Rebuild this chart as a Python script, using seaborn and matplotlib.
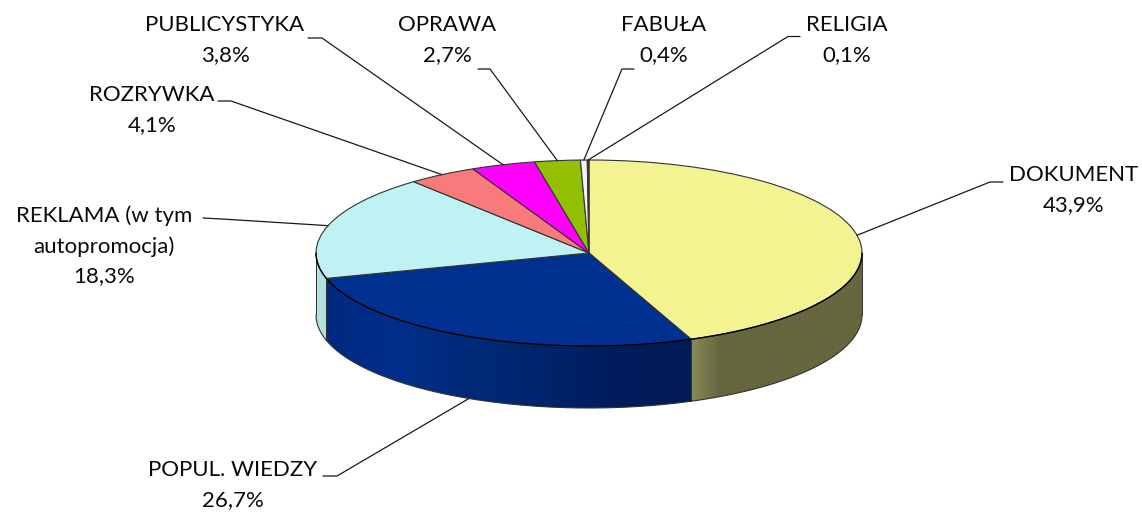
import numpy as np
import matplotlib
matplotlib.use("Agg")
import matplotlib.pyplot as plt
from matplotlib.patches import Polygon
import seaborn as sns

# udzialy gatunkow, kolejnosc zgodnie z ruchem wskazowek od gory
names = ["DOKUMENT", "POPUL. WIEDZY", "REKLAMA (w tym\nautopromocja)", "ROZRYWKA",
         "PUBLICYSTYKA", "OPRAWA", "FABUŁA", "RELIGIA"]
values = [43.9, 26.7, 18.3, 4.1, 3.8, 2.7, 0.4, 0.1]
top_colors = ["#F3F391", "#003090", "#BFF3F3", "#F87A7A", "#FF00FF", "#92BF00", "#F2F2F2", "#5A3A2A"]

# gradienty bocznych scian (tylko widoczne kawalki)
side_stops = {
    0: ["#8A8A5A", "#66663F", "#66663F", "#66663F", "#66663F", "#66663F", "#66663F"],
    1: ["#002A80", "#002E8A", "#002A78", "#00246A", "#001C5C", "#001A55"],
    2: ["#B4E2E2", "#AEDEDE"],
}

# pozycje w pikselach obrazka
CX, CY = 589, 253
RX, RY = 273, 93
DEPTH = 62 / RY
label_pos = [(1074, 190), (233, 485), (104, 246), (152, 110),
             (225, 40), (447, 40), (664, 40), (847, 40)]
leader_elbows = [[(990, 182), (1003, 182)], [(337, 476), (323, 476)],
                 [(222, 219), (203, 218)], [(231, 101), (218, 101)],
                 [(322, 38), (308, 38)], [(490, 69), (478, 69)],
                 [(622, 69), (634, 69)], [(788, 36.5), (800, 36.5)]]


def px(x, y):
    return (x - CX) / RX, (CY - y) / RY


sns.set_theme(style="white")
plt.rcParams["font.family"] = ["Lato", "DejaVu Sans"]

fig, ax = plt.subplots(figsize=(11.42, 5.12), dpi=100)
fig.subplots_adjust(0, 0, 1, 1)

wedges, _ = ax.pie(values, colors=top_colors, startangle=90, counterclock=False,
                   radius=1, wedgeprops={"edgecolor": "#333333", "linewidth": 0.8, "zorder": 5})

# sciany boczne
ends = 90 - np.cumsum(values) * 3.6
starts = np.r_[90, ends[:-1]]
for i, stops in side_stops.items():
    a0 = max(ends[i], -180)
    a1 = min(starts[i], 0)
    theta = np.radians(np.linspace(a0, a1, 161))
    xs = np.cos(theta)
    ys = np.sin(theta)
    outline = np.r_[np.c_[xs, ys], np.c_[xs[::-1], ys[::-1] - DEPTH]]
    patch = Polygon(outline, closed=True, transform=ax.transData, facecolor="none", edgecolor="none")
    ax.add_patch(patch)
    shades = np.array(sns.blend_palette(stops, n_colors=200))[None, :, :]
    im = ax.imshow(shades, extent=(xs[0], xs[-1], (ys - DEPTH).min(), ys.max()),
                   aspect="auto", interpolation="bilinear", zorder=2)
    im.set_clip_path(patch)
    ax.plot(xs, ys - DEPTH, color="#333333", lw=0.8, zorder=3)
    ax.plot(xs, ys, color="#000000", lw=1.0, zorder=6)
    ax.plot([xs[0], xs[0]], [ys[0], ys[0] - DEPTH], color="#333333", lw=0.7, zorder=3)
    ax.plot([xs[-1], xs[-1]], [ys[-1], ys[-1] - DEPTH], color="#333333", lw=0.7, zorder=3)

ax.set_aspect("auto")
ax.set_xlim(-CX / RX, (1142 - CX) / RX)
ax.set_ylim((CY - 512) / RY, CY / RY)
ax.axis("off")

# linie odniesienia i opisy
mids = np.radians((starts + ends) / 2)
for name, val, mid, pos, elbow in zip(names, values, mids, label_pos, leader_elbows):
    x0, y0 = np.cos(mid), np.sin(mid)
    if y0 < 0:
        y0 -= DEPTH
    pts = [px(*p) for p in elbow]
    ax.plot([x0] + [p[0] for p in pts], [y0] + [p[1] for p in pts],
            color="#1a1a1a", lw=0.9, zorder=1 if np.sin(mid) < 0 else 6)
    pct = f"{val:.1f}%".replace(".", ",")
    ax.text(*px(*pos), f"{name}\n{pct}", ha="center", va="center", fontsize=16,
            color="#0a0a0a", linespacing=1.6)

fig.savefig("out.png", dpi=100, facecolor="white")
